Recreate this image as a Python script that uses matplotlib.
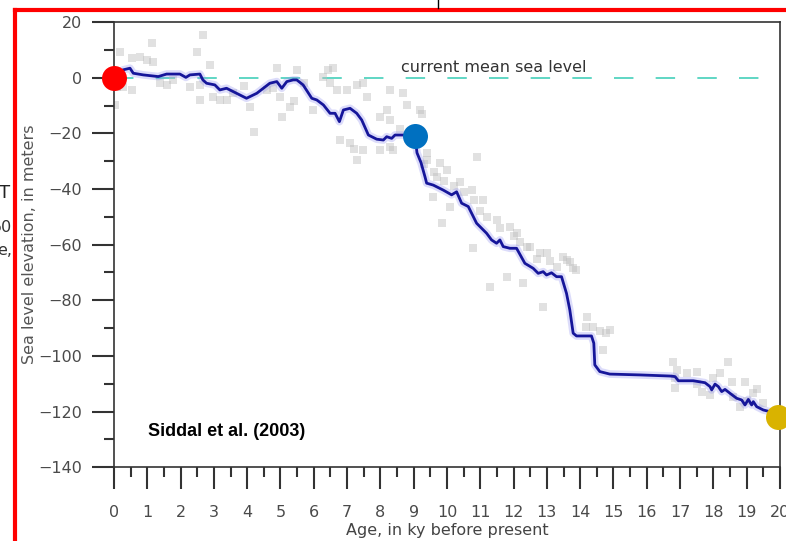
import matplotlib
matplotlib.use("Agg")
import matplotlib.pyplot as plt
from matplotlib.lines import Line2D

# Siddall et al. (2003) sea level curve
line_age = [0, 0.27, 0.48, 0.58, 0.88, 1.33, 1.58, 1.98, 2.16, 2.28, 2.58, 2.67, 2.78, 3.03,
            3.18, 3.38, 3.68, 3.98, 4.29, 4.68, 4.89, 5.04, 5.19, 5.38, 5.49, 5.68, 5.94, 6.09,
            6.29, 6.49, 6.64, 6.77, 6.89, 7.09, 7.29, 7.44, 7.64, 7.89, 8.09, 8.19, 8.34, 8.44,
            8.69, 9.04, 9.10, 9.22, 9.34, 9.39, 9.59, 9.89, 10.14, 10.29, 10.44, 10.64, 10.89,
            11.19, 11.34, 11.49, 11.59, 11.69, 11.89, 12.09, 12.34, 12.59, 12.74, 12.89, 12.99,
            13.14, 13.29, 13.44, 13.59, 13.69, 13.79, 13.89, 14.34, 14.41, 14.44, 14.59, 14.89,
            15.79, 16.70, 16.85, 16.95, 17.40, 17.75, 17.90, 17.95, 18.05, 18.15, 18.25, 18.35,
            18.50, 18.70, 18.85, 18.95, 19.05, 19.15, 19.20, 19.30, 19.50, 19.70]
line_level = [0, 2.8, 3.4, 1.6, 1.0, 0.4, 1.3, 1.3, 0.1, 1.0, 1.3, -0.8, -2.0, -2.6,
              -4.4, -3.8, -5.6, -7.4, -5.6, -2.0, -1.4, -3.8, -1.4, -0.8, -0.8, -2.6, -7.4, -8.0,
              -9.8, -12.8, -12.8, -15.8, -11.6, -11.0, -12.8, -15.2, -20.6, -22.1, -22.4, -21.2, -21.8, -20.6,
              -20.6, -21.0, -27.0, -30.5, -35.6, -37.9, -38.6, -40.4, -42.1, -41.0, -45.1, -46.3, -52.3,
              -55.9, -58.3, -59.5, -58.3, -60.7, -61.3, -61.3, -66.7, -68.5, -70.3, -69.7, -70.9,
              -70.1, -71.5, -71.5, -77.5, -83.5, -91.8, -92.8, -92.8, -95.4, -103.2, -105.6, -106.5,
              -106.8, -107.2, -107.4, -108.9, -108.9, -109.6, -111.0, -112.2, -110.1, -111.0, -112.8, -112.0,
              -113.4, -115.2, -115.8, -117.6, -115.6, -117.6, -116.4, -118.2, -119.4, -120.0]

# individual data points (grey squares)
pts_age = [0.03, 0.08, 0.18, 0.27, 0.53, 0.53, 0.78, 0.98, 1.13, 1.17, 1.38, 1.58, 1.77,
           2.28, 2.48, 2.58, 2.58, 2.68, 2.88, 2.98, 3.18, 3.38, 3.57, 3.9,
           4.08, 4.22, 4.59, 4.78, 4.89, 4.98, 5.04, 5.29, 5.4, 5.49, 5.7, 5.98,
           6.29, 6.44, 6.59, 6.49, 6.69, 6.99, 7.29, 7.48, 7.59, 6.79, 7.09, 7.2, 7.29, 7.49,
           7.99, 8.39, 8.19, 8.29, 8.29, 7.99, 8.69, 8.79, 8.29, 8.6,
           9.19, 9.24, 9.39, 9.39, 9.69, 9.79, 9.99, 9.59, 9.84, 10.09, 10.39, 10.74, 10.89,
           10.79, 11.09, 11.29, 11.49, 11.79, 11.89, 12.09, 12.29, 12.39, 12.79, 12.89, 12.99,
           13.49, 13.59, 13.69, 13.79, 13.89,
           9.3, 9.6, 9.9, 10.2, 10.5, 10.8, 11.0, 11.2, 11.6, 12.0, 12.2, 12.5, 12.7, 13.1, 13.3,
           14.2, 14.19, 14.39, 14.59, 14.79, 14.89, 14.69,
           16.79, 16.85, 16.85, 16.9, 17.2, 17.5, 17.5, 17.65, 17.9, 18.2, 18.45, 18.55, 18.6,
           18.8, 18.95, 19.2, 19.3, 18.0, 19.0, 19.5]
pts_level = [-9.8, -3.2, 9.3, -3.5, 7.0, -4.4, 7.5, 6.4, 12.4, 5.7, -2.0, -2.5, -0.8,
             -3.2, 9.3, -2.6, -8.0, 15.3, 4.6, -6.8, -8.0, -8.0, -5.6, -3.0,
             -10.4, -19.4, -4.4, -3.7, 3.4, -6.8, -14.0, -10.4, -8.5, 2.8, -2.0, -11.6,
             0.4, 2.8, 3.4, -2.0, -4.4, -4.4, -2.6, -2.0, -6.8, -22.4, -23.6, -25.5, -29.6, -26.0,
             -26.0, -26.0, -11.6, -4.4, -15.2, -14.0, -5.6, -9.8, -24.8, -18.5,
             -11.6, -13.0, -27.2, -29.6, -35.6, -30.8, -33.2, -42.8, -52.3, -46.3, -37.4, -40.4, -28.4,
             -61.3, -43.9, -75.1, -51.1, -71.5, -53.5, -55.9, -73.9, -60.7, -63.1, -82.3, -63.1,
             -64.3, -65.5, -66.1, -68.5, -69.1,
             -31, -34, -37, -39, -41, -44, -48, -50, -54, -57, -59, -61, -65, -66, -68,
             -86, -89.5, -89.5, -91.0, -91.9, -90.5, -97.8,
             -102.3, -108, -111.6, -105, -106.2, -105.6, -110, -112.8, -114, -106.2, -102, -109.2, -114.6,
             -118.2, -109.2, -113.4, -112, -108, -116, -117]

# highlighted dots
dot_age = [0, 9.05, 19.95]
dot_level = [0, -21, -122]
dot_colors = ["#ff0000", "#0070c0", "#d9b300"]

x_ticks = list(range(0, 21))
y_ticks = list(range(-140, 21, 20))

plt.rcParams["font.family"] = "DejaVu Sans"
plt.rcParams["lines.scale_dashes"] = False

fig = plt.figure(figsize=(7.86, 5.41), dpi=100)
ax = fig.add_axes([0.1450, 0.1362, 0.8473, 0.8231])

ax.scatter(pts_age, pts_level, marker="s", s=40, color="#bdbdbd", alpha=0.45,
           linewidths=0, zorder=2)

# current mean sea level
ax.plot([0, 19.4], [0, 0], color="#5fd6c4", lw=1.4, dashes=(14, 16), zorder=1)
ax.text(11.4, 3.8, "current mean sea level", ha="center", va="center",
        fontsize=11.5, color="#333333")

ax.plot(line_age, line_level, color="#8c8cf0", lw=5.5, alpha=0.3, zorder=3,
        solid_joinstyle="round")
ax.plot(line_age, line_level, color="#16169a", lw=2.0, zorder=4,
        solid_joinstyle="round")

for a, lvl, c in zip(dot_age, dot_level, dot_colors):
    ax.plot(a, lvl, "o", ms=18, color=c, mec="none", zorder=6, clip_on=False)

ax.text(1.02, -127, "Siddal et al. (2003)", ha="left", va="center",
        fontsize=13, fontweight="bold", family="Liberation Sans", color="black")

ax.set_xlim(0, 20)
ax.set_ylim(-140, 20)
ax.set_xticks(x_ticks)
ax.set_xticks([t + 0.5 for t in x_ticks[:-1]], minor=True)
ax.set_yticks(y_ticks)
ax.set_yticks([t + 10 for t in y_ticks[:-1]], minor=True)

ax.tick_params(which="major", length=16, width=1.5, color="#333333",
               labelsize=11.5, labelcolor="#4a4a4a")
ax.tick_params(which="minor", length=7.5, width=1.5, color="#333333")
ax.tick_params(axis="x", which="major", pad=11)
ax.tick_params(axis="y", which="major", pad=7)

for sp in ax.spines.values():
    sp.set_color("#333333")
    sp.set_linewidth(1.2)

ax.set_xlabel("Age, in ky before present", fontsize=11.5, color="#444444")
ax.xaxis.set_label_coords(0.5, -0.125)
ax.set_ylabel("Sea level elevation, in meters", fontsize=11.5, color="#555555")
ax.yaxis.set_label_coords(-0.115, 0.5)

# red frame of the screenshot
fig.add_artist(Line2D([15 / 786, 15 / 786], [0, 1 - 10 / 541], color="#ff0000", lw=3))
fig.add_artist(Line2D([15 / 786, 1], [1 - 10 / 541, 1 - 10 / 541], color="#ff0000", lw=3))

# fragments of neighbouring content
fig.add_artist(Line2D([438 / 786, 438 / 786], [1 - 8 / 541, 1], color="black", lw=1))
fig.text(12 / 786, 1 - 228 / 541, "50", ha="right", va="center", fontsize=11.5, color="#333333")
fig.text(12 / 786, 1 - 250 / 541, "e,", ha="right", va="center", fontsize=11.5, color="#333333")
fig.text(10 / 786, 1 - 193 / 541, "T", ha="right", va="center", fontsize=13, color="#222222")

fig.savefig("out.png", dpi=100)
